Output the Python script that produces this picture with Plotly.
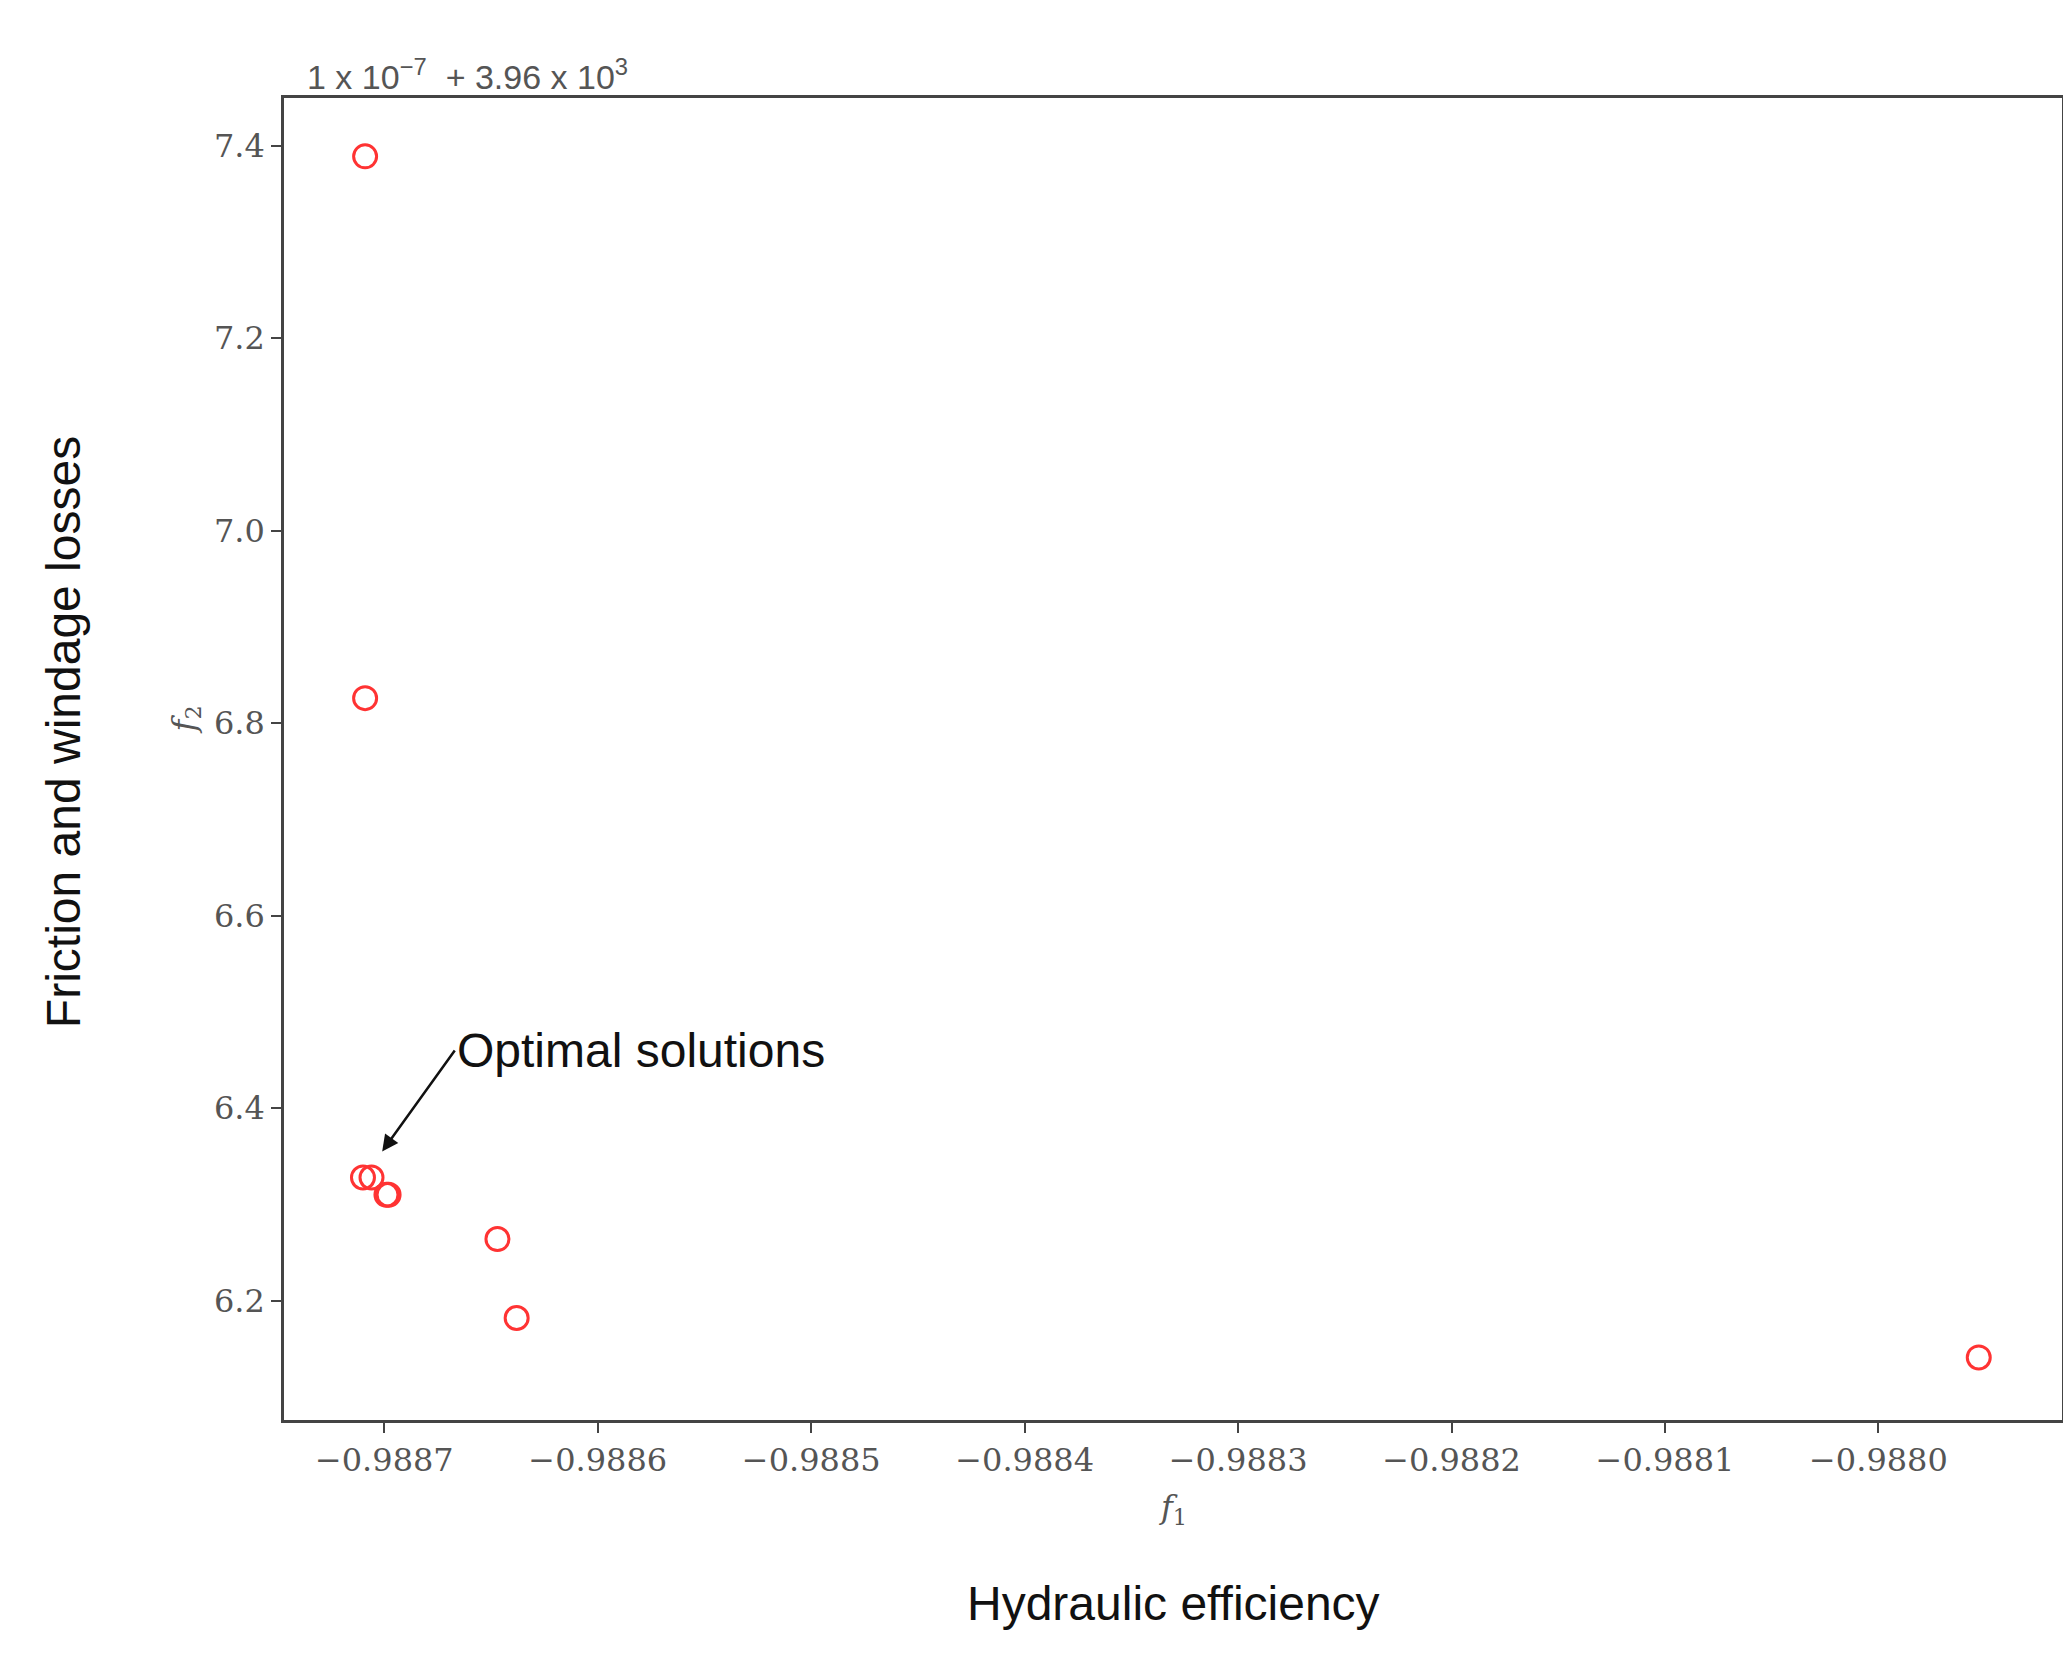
import plotly.graph_objects as go

# objective values
f1 = [-0.988709, -0.988709, -0.988710, -0.988706, -0.988699, -0.988698,
      -0.988647, -0.988638, -0.987953]
f2 = [7.389, 6.826, 6.328, 6.328, 6.310, 6.310, 6.264, 6.182, 6.141]

x_ticks = [-0.9887, -0.9886, -0.9885, -0.9884, -0.9883, -0.9882, -0.9881, -0.9880]
y_ticks = [6.2, 6.4, 6.6, 6.8, 7.0, 7.2, 7.4]

tick_font = dict(family="DejaVu Serif", size=32, color="#555555")

fig = go.Figure()
fig.add_trace(go.Scatter(
    x=f1, y=f2, mode="markers",
    marker=dict(symbol="circle-open", size=23, color="#ff3333", line=dict(width=3)),
    showlegend=False,
))

fig.update_xaxes(range=[-0.988747, -0.987914], tickvals=x_ticks,
                 ticktext=[f"\u2212{abs(v):.4f}" for v in x_ticks],
                 showgrid=False, zeroline=False, showline=True, mirror=True,
                 linecolor="#444444", linewidth=2.5, ticks="outside", ticklen=10,
                 tickcolor="#444444", tickwidth=2, tickfont=tick_font)
fig.update_yaxes(range=[6.076, 7.4496], tickvals=y_ticks,
                 ticktext=[f"{v:.1f}" for v in y_ticks],
                 showgrid=False, zeroline=False, showline=True, mirror=True,
                 linecolor="#444444", linewidth=2.5, ticks="outside", ticklen=10,
                 tickcolor="#444444", tickwidth=2, tickfont=tick_font)

sans = "Liberation Sans"
annos = [
    dict(text="<i>f</i><sub>1</sub>", x=0.5, y=-0.085, xref="paper", yref="paper",
         showarrow=False, font=dict(family="DejaVu Serif", size=32, color="#555555")),
    dict(text="Hydraulic efficiency", x=0.5, y=-0.16, xref="paper", yref="paper",
         showarrow=False, font=dict(family=sans, size=48, color="#111111")),
    dict(text="<i>f</i><sub>2</sub>", x=-0.068, y=0.53, xref="paper", yref="paper",
         textangle=-90, showarrow=False,
         font=dict(family="DejaVu Serif", size=32, color="#555555")),
    dict(text="Friction and windage losses", x=-0.14, y=0.52, xref="paper", yref="paper",
         textangle=-90, showarrow=False, font=dict(family=sans, size=48, color="#111111")),
    dict(text="1 x 10<sup>\u22127</sup>  + 3.96 x 10<sup>3</sup>", x=0.012, y=1.0,
         xref="paper", yref="paper", xanchor="left", yanchor="bottom", showarrow=False,
         font=dict(family=sans, size=34, color="#555555")),
    dict(text="Optimal solutions", x=-0.988701, y=6.355, ax=-0.988667, ay=6.46,
         xref="x", yref="y", axref="x", ayref="y", showarrow=True, arrowhead=2,
         arrowsize=1.3, arrowwidth=2.5, arrowcolor="#111111", xanchor="left",
         font=dict(family=sans, size=48, color="#111111")),
]
fig.update_layout(
    width=2071, height=1673, plot_bgcolor="white", paper_bgcolor="white",
    margin=dict(l=276, r=17, t=90, b=261), annotations=annos,
)

fig.write_html("out.html")
